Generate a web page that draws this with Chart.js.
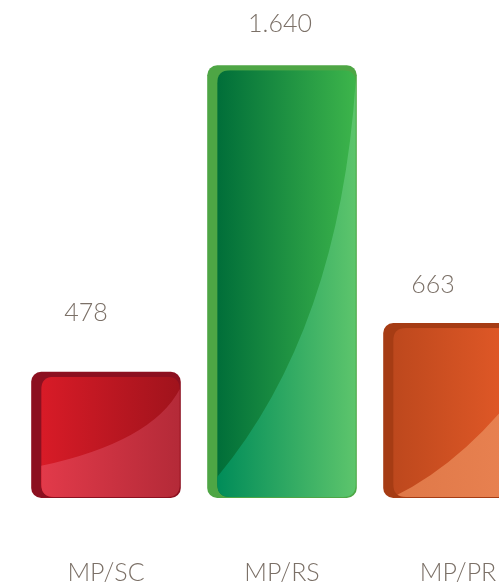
<!DOCTYPE html>
<html>
<head>
<meta charset="utf-8">
<script src="https://cdn.jsdelivr.net/npm/chart.js@4.4.1/dist/chart.umd.min.js"></script>
<style>
  html, body { margin: 0; padding: 0; background: #fff; overflow: hidden; }
  #wrap { width: 560px; height: 588px; }
</style>
</head>
<body>
<div id="wrap"><canvas id="barChart" width="560" height="588"></canvas></div>
<script>
// chart data
const categories = ['MP/SC', 'MP/RS', 'MP/PR'];
const values = [478, 1640, 663];

// look of each bar: back plate, face gradient (left -> right), gloss gradient
const backColors = ['#8c1020', '#4ea645', '#a63c14'];
const faceColors = [['#d81b27', '#a0131c'], ['#006e39', '#3db54b'], ['#bd481d', '#e85c29']];
const glossColors = [['#e23a4a', '#b42a38'], ['#008c59', '#5dc56c'], ['#df7848', '#ea8352']];
// gloss curve: [start y, control x, control y, end y] as fractions of the face
const glossCurve = [[0.74, 0.8, 0.54, 0.1], [0.953, 0.88, 0.61, 0.023], [1.0, 0.55, 0.78, 0.26]];
// small nudges for the value labels [dx, dy above bar top]
const labelNudge = [[-20, 59], [-2, 41], [-25, 38]];

const textColor = '#7b7067';
const fontFamily = 'Lato, "Open Sans", sans-serif';

function fmt(n) {
  return String(n).replace(/\B(?=(\d{3})+(?!\d))/g, '.');
}

function roundRect(ctx, x, y, w, h, r) {
  ctx.beginPath();
  ctx.moveTo(x + r, y);
  ctx.lineTo(x + w - r, y);
  ctx.quadraticCurveTo(x + w, y, x + w, y + r);
  ctx.lineTo(x + w, y + h - r);
  ctx.quadraticCurveTo(x + w, y + h, x + w - r, y + h);
  ctx.lineTo(x + r, y + h);
  ctx.quadraticCurveTo(x, y + h, x, y + h - r);
  ctx.lineTo(x, y + r);
  ctx.quadraticCurveTo(x, y, x + r, y);
  ctx.closePath();
}

const glossyBars = {
  id: 'glossyBars',
  afterDatasetsDraw(chart) {
    const ctx = chart.ctx;
    const meta = chart.getDatasetMeta(0);
    meta.data.forEach((bar, i) => {
      const p = bar.getProps(['x', 'y', 'base', 'width'], true);
      const left = p.x - p.width / 2;
      const right = p.x + p.width / 2;
      const fx = left + 10, fy = p.y + 5;
      const fw = right - 1 - fx, fh = p.base - 1 - fy;

      ctx.save();
      roundRect(ctx, fx, fy, fw, fh, 13);
      ctx.clip();

      let g = ctx.createLinearGradient(fx, 0, fx + fw, 0);
      g.addColorStop(0, faceColors[i][0]);
      g.addColorStop(1, faceColors[i][1]);
      ctx.fillStyle = g;
      ctx.fillRect(fx, fy, fw, fh);

      const c = glossCurve[i];
      ctx.beginPath();
      ctx.moveTo(fx, fy + c[0] * fh);
      ctx.quadraticCurveTo(fx + c[1] * fw, fy + c[2] * fh, fx + fw, fy + c[3] * fh);
      ctx.lineTo(fx + fw, fy + fh + 2);
      ctx.lineTo(fx, fy + fh + 2);
      ctx.closePath();
      g = ctx.createLinearGradient(fx, 0, fx + fw, 0);
      g.addColorStop(0, glossColors[i][0]);
      g.addColorStop(1, glossColors[i][1]);
      ctx.fillStyle = g;
      ctx.fill();
      ctx.restore();

      // value above the bar
      ctx.save();
      ctx.fillStyle = textColor;
      ctx.font = '300 25px ' + fontFamily;
      ctx.textAlign = 'center';
      ctx.textBaseline = 'middle';
      ctx.fillText(fmt(values[i]), p.x + labelNudge[i][0], p.y - labelNudge[i][1]);
      ctx.restore();
    });
  }
};

new Chart(document.getElementById('barChart'), {
  type: 'bar',
  data: {
    labels: categories,
    datasets: [{
      data: values,
      backgroundColor: backColors,
      borderRadius: 10,
      borderSkipped: false,
      categoryPercentage: 1,
      barPercentage: 0.85
    }]
  },
  options: {
    responsive: false,
    animation: false,
    layout: { padding: { left: 18, right: 14, top: 23, bottom: 0 } },
    plugins: { legend: { display: false }, tooltip: { enabled: false } },
    scales: {
      x: {
        grid: { display: false, drawTicks: false },
        border: { display: false },
        ticks: { color: textColor, padding: 60, font: { family: fontFamily, size: 25, weight: 300 } },
        afterFit(scale) { scale.height = 90; }
      },
      y: {
        display: false,
        min: 0,
        max: 1800
      }
    }
  },
  plugins: [glossyBars]
});
</script>
</body>
</html>
